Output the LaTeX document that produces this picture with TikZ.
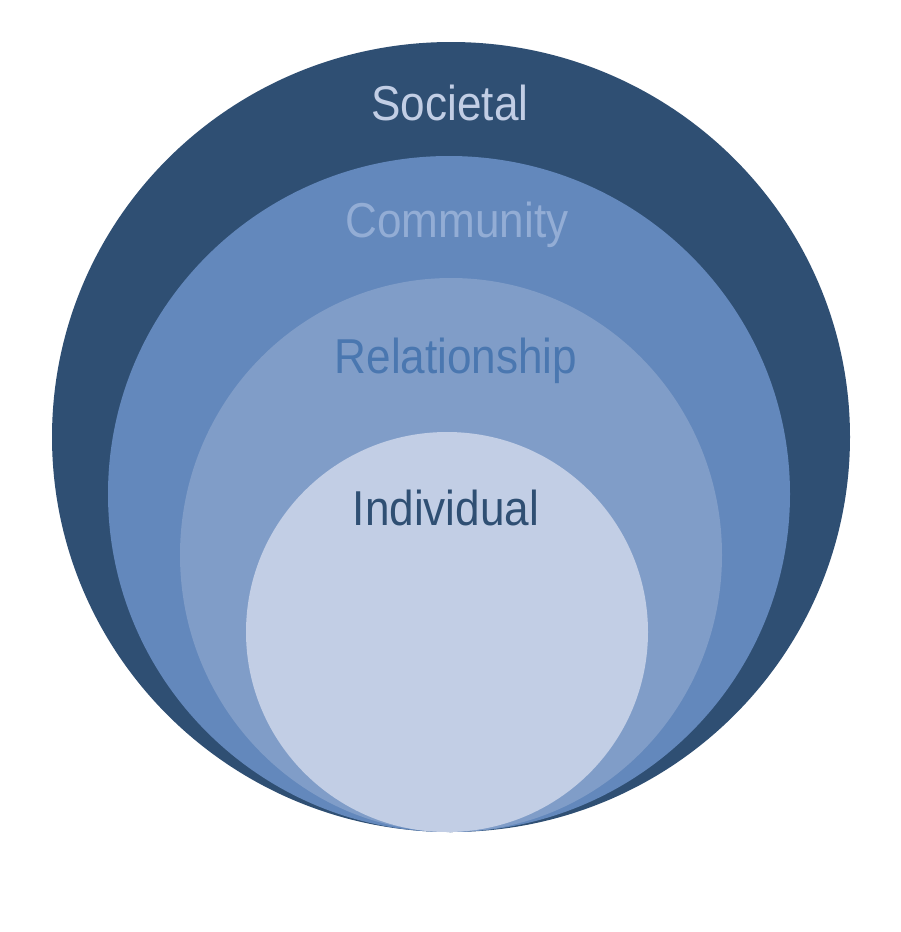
\documentclass[tikz,border=0pt]{standalone}
\usepackage{fontspec}
\setmainfont{Liberation Sans}
\definecolor{societal}{RGB}{47,79,115}
\definecolor{community}{RGB}{99,136,188}
\definecolor{relation}{RGB}{128,157,200}
\definecolor{individual}{RGB}{194,206,229}
\definecolor{communitytext}{RGB}{147,173,213}
\definecolor{relationtext}{RGB}{74,119,176}
\begin{document}
\begin{tikzpicture}[x=1pt,y=-1pt,level/.style={font=\fontsize{49}{58}\selectfont,xscale=0.9,anchor=base,inner sep=0pt}]
\useasboundingbox (0,0) rectangle (900,932);
\fill[white] (0,0) rectangle (900,932);
\foreach \cx/\cy/\rx/\ry/\col in {451/437/399/395/societal,449/494/341/338/community,451/555/271/277/relation,447/632/201/200/individual} {
   \fill[\col] (\cx,\cy) ellipse [x radius=\rx, y radius=\ry];
}
\node[level,text=individual] (soc) at (450,120) {Societal};
\node[level,text=communitytext] (com) at (457,237) {Community};
\node[level,text=relationtext] (rel) at (456,373) {Relationship};
\node[level,text=societal] (ind) at (446,525) {Individual};
\end{tikzpicture}
\end{document}
